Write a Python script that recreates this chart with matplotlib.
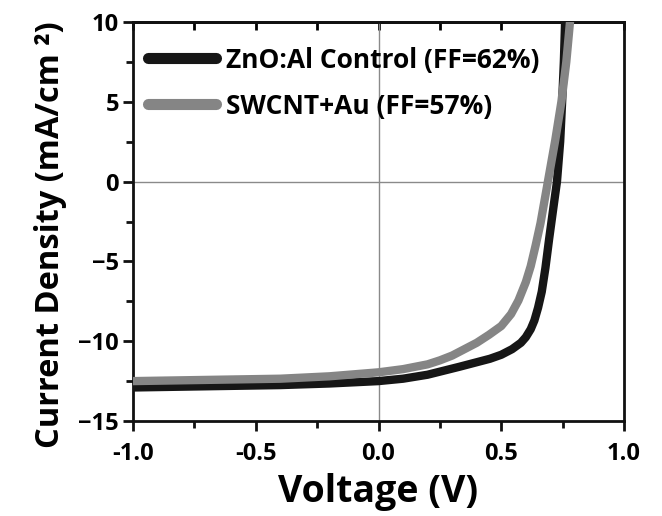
import numpy as np
import matplotlib.pyplot as plt
from matplotlib.ticker import MultipleLocator

plt.rcParams['font.family'] = ['Open Sans', 'DejaVu Sans']
plt.rcParams['font.weight'] = 'bold'

# J-V data
v_ctrl = [-1.0, -0.8, -0.6, -0.4, -0.2, 0.0, 0.1, 0.2, 0.33, 0.454, 0.5, 0.544,
          0.58, 0.60, 0.62, 0.635, 0.65, 0.665, 0.68, 0.695, 0.71, 0.727, 0.74, 0.748, 0.755, 0.76]
j_ctrl = [-12.9, -12.85, -12.8, -12.75, -12.65, -12.5, -12.35, -12.1, -11.6, -11.1, -10.85, -10.5,
          -10.1, -9.75, -9.25, -8.7, -7.9, -6.9, -5.4, -3.6, -1.9, 0.0, 2.5, 5.0, 7.5, 10.0]

v_cnt = [-1.0, -0.8, -0.6, -0.4, -0.2, 0.0, 0.1, 0.2, 0.25, 0.3, 0.35, 0.4, 0.45, 0.5,
         0.54, 0.57, 0.6, 0.62, 0.64, 0.66, 0.69, 0.72, 0.745, 0.765, 0.78]
j_cnt = [-12.5, -12.45, -12.4, -12.35, -12.2, -11.95, -11.75, -11.45, -11.2, -10.9, -10.5, -10.1, -9.6, -9.05,
         -8.3, -7.45, -6.3, -5.3, -4.0, -2.6, 0.0, 2.6, 5.0, 7.5, 10.0]

labels = ['ZnO:Al Control (FF=62%)', 'SWCNT+Au (FF=57%)']

fig = plt.figure(figsize=(6.62, 5.16), dpi=100)
ax = fig.add_axes([133 / 662, 95 / 516, 491 / 662, 399 / 516])

ax.axhline(0, color='#8a8a8a', lw=1.0, zorder=1)
ax.axvline(0, color='#8a8a8a', lw=1.0, zorder=1)

ax.plot(v_ctrl, j_ctrl, color='#161616', lw=6, solid_capstyle='round',
        solid_joinstyle='round', label=labels[0], zorder=3)
ax.plot(v_cnt, j_cnt, color='#858585', lw=6, solid_capstyle='round',
        solid_joinstyle='round', label=labels[1], zorder=4)

ax.set_xlim(-1.0, 1.0)
ax.set_ylim(-15, 10)
ax.xaxis.set_major_locator(MultipleLocator(0.5))
ax.xaxis.set_minor_locator(MultipleLocator(0.25))
ax.yaxis.set_major_locator(MultipleLocator(5))
ax.yaxis.set_minor_locator(MultipleLocator(2.5))
ax.xaxis.set_major_formatter(plt.FuncFormatter(lambda x, p: '%.1f' % x))

for s in ax.spines.values():
    s.set_linewidth(2.0)
    s.set_color('#111111')

ax.tick_params(which='major', direction='out', length=7, width=2, labelsize=17, color='#111111', pad=3)
ax.tick_params(which='minor', direction='out', length=5, width=2, color='#111111')
ax.tick_params(axis='x', pad=8)

top = ax.secondary_xaxis('top')
top.xaxis.set_major_locator(MultipleLocator(0.25))
top.tick_params(direction='in', length=6, width=2, labeltop=False)
top.spines['top'].set_linewidth(2.0)

ax.set_xlabel('Voltage (V)', fontsize=27, fontweight='bold', labelpad=5)
ax.set_ylabel('Current Density (mA/cm \u00b2)', fontsize=23.5, fontweight='bold')
ax.yaxis.set_label_coords(-0.135, 0.466)

leg = ax.legend(loc='upper left', bbox_to_anchor=(0.01, 0.965), frameon=False, fontsize=19,
                handlelength=2.55, handletextpad=0.4, labelspacing=0.72, borderpad=0,
                borderaxespad=0.4)
for ln in leg.get_lines():
    ln.set_linewidth(8)
    ln.set_solid_capstyle('round')

fig.savefig('out.png', dpi=100)
